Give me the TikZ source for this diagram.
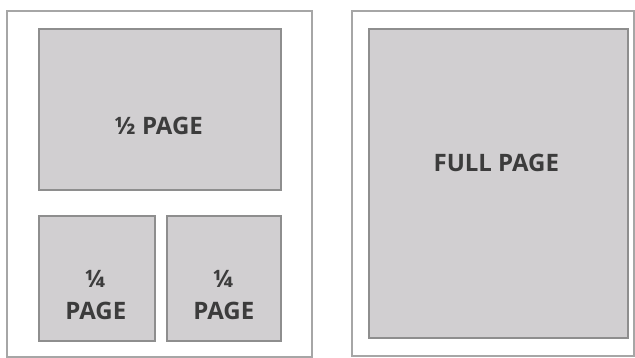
\documentclass[tikz,border=0pt]{standalone}
\usepackage{fontspec}
\setmainfont{Open Sans}
\definecolor{framegray}{HTML}{A6A6A6}
\definecolor{boxfill}{HTML}{D1CFD1}
\definecolor{boxline}{HTML}{8E8E8E}
\definecolor{inkgray}{HTML}{3C3C3C}
\begin{document}
\begin{tikzpicture}[x=1pt, y=-1pt,
    pageframe/.style={draw=framegray, line width=1.6pt, fill=white},
    adbox/.style={draw=boxline, line width=1.6pt, fill=boxfill, inner sep=0pt, anchor=north west},
    adtext/.style={text=inkgray, font=\fontsize{24}{26}\selectfont\bfseries, align=center, inner sep=0pt}]
  \useasboundingbox (0,0) rectangle (635,358);

  % page frames
  \draw[pageframe] (7,11) rectangle (312,357);
  \draw[pageframe] (352,11) rectangle (634,356);

  % left page: half + two quarters
  \node[adbox, minimum width=242pt, minimum height=161pt] (half) at (38,28) {};
  \node[adbox, minimum width=116pt, minimum height=125pt] (quarterA) at (38,215) {};
  \node[adbox, minimum width=114pt, minimum height=125pt] (quarterB) at (166,215) {};

  \node[adtext] (halfText) at ([xshift=-1pt, yshift=-17pt]half.center) {½ PAGE};
  \node[adtext] (quarterAText) at ([xshift=-1pt, yshift=-17pt]quarterA.center) {¼\\[6pt]PAGE};
  \node[adtext] (quarterBText) at ([xshift=0pt, yshift=-17pt]quarterB.center) {¼\\[6pt]PAGE};

  % right page: full
  \node[adbox, minimum width=259pt, minimum height=309pt] (full) at (368,28) {};
  \node[adtext] (fullText) at ([xshift=-2pt, yshift=20pt]full.center) {FULL PAGE};
\end{tikzpicture}
\end{document}
